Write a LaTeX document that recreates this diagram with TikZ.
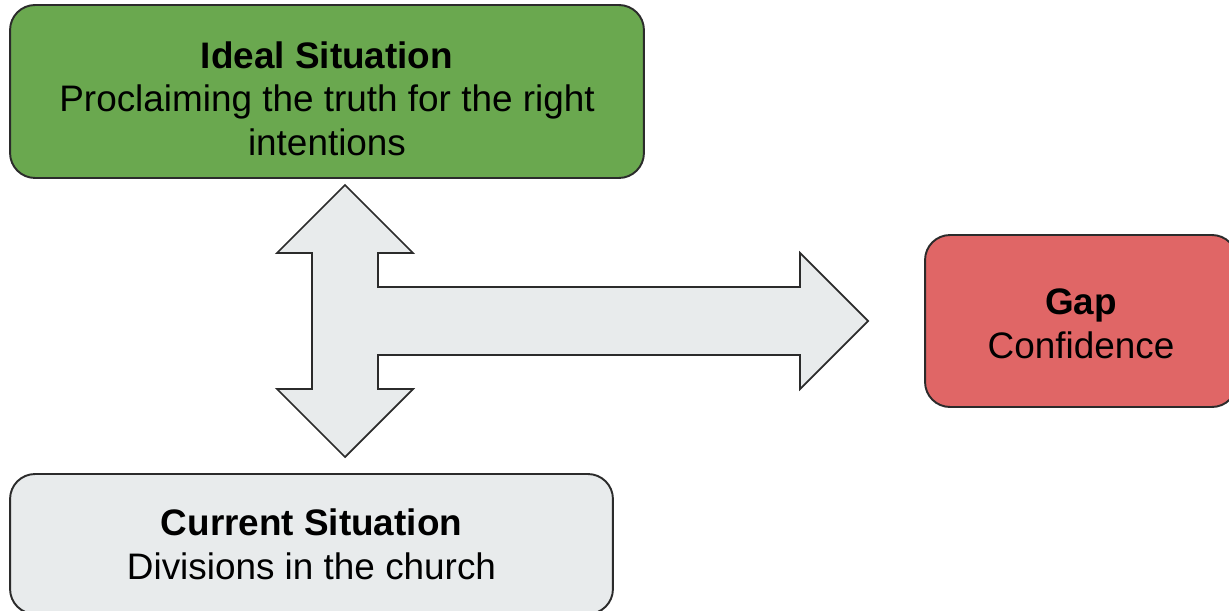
\documentclass[tikz,border=0pt]{standalone}
\usepackage{fontspec}
\setmainfont{Liberation Sans}
\definecolor{idealgreen}{HTML}{6AA84F}
\definecolor{gapred}{HTML}{E06666}
\definecolor{nowgrey}{HTML}{E8EBEC}
\definecolor{edgegrey}{HTML}{2B2B2B}

\begin{document}
\begin{tikzpicture}[x=0.02cm,y=-0.02cm,font=\fontsize{21}{25}\selectfont,
    box/.style={draw=edgegrey,line width=1.1pt,rounded corners=0.5cm,align=center,inner sep=0pt},
    bigarrow/.style={draw=edgegrey,fill=nowgrey,line width=1pt,line join=miter}]
  \useasboundingbox (0,0) rectangle (1229,611);
  % the three situations
  \node[box,fill=idealgreen,minimum width=12.68cm,minimum height=3.46cm] (ideal) at (327,91.5)
    {\rule{0pt}{23.5pt}\textbf{Ideal Situation}\\Proclaiming the truth for the right\\intentions};
  \node[box,fill=nowgrey,minimum width=12.06cm,minimum height=2.8cm] (current) at (311.5,544)
    {\textbf{Current Situation}\\Divisions in the church};
  \node[box,fill=gapred,minimum width=6.24cm,minimum height=3.44cm] (gap) at (1081,321)
    {\rule{0pt}{17.5pt}\textbf{Gap}\\Confidence};
  % block arrow between them
  \coordinate (hub) at (345,321);
  \draw[bigarrow] (hub) ++(0,-136) -- ++(68,68) -- ++(-35,0) -- ++(0,34) -- ++(422,0)
    -- ++(0,-34) -- ++(68,68) -- ++(-68,68) -- ++(0,-34) -- ++(-422,0) -- ++(0,34)
    -- ++(35,0) -- ++(-68,68) -- ++(-68,-68) -- ++(35,0) -- ++(0,-136) -- ++(-35,0) -- cycle;
\end{tikzpicture}
\end{document}
